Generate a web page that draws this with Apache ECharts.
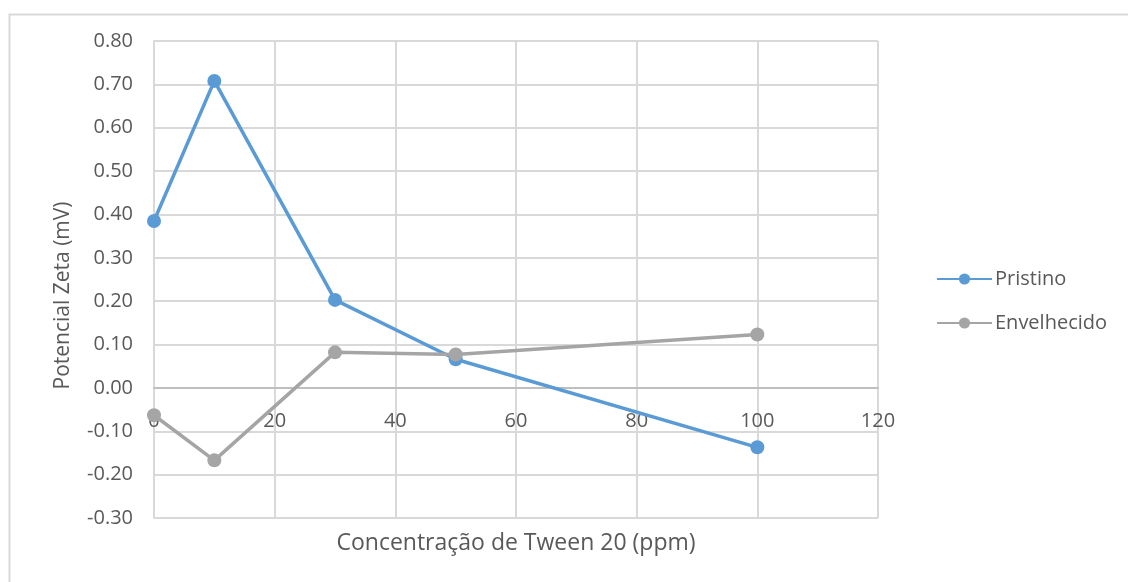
<!DOCTYPE html>
<html>
<head>
<meta charset="utf-8">
<script src="https://cdn.jsdelivr.net/npm/echarts@6/dist/echarts.min.js"></script>
<style>
html,body{margin:0;padding:0;background:#fff;}
#c{width:1128px;height:582px;}
</style>
</head>
<body>
<div id="c"></div>
<script>
const concentrations = [0, 10, 30, 50, 100];
const pristino = [0.385, 0.708, 0.203, 0.066, -0.137];
const envelhecido = [-0.063, -0.167, 0.082, 0.077, 0.123];
const seriesNames = ['Pristino', 'Envelhecido'];
const xTitle = 'Concentração de Tween 20 (ppm)';
const yTitle = 'Potencial Zeta (mV)';

const font = 'Open Sans';
const fs = 20;
const txt = '#595959';
const chart = echarts.init(document.getElementById('c'));
const pairs = vals => concentrations.map((x, i) => [x, vals[i]]);
chart.setOption({
  animation: false,
  graphic: [{
    type: 'rect', left: 7, top: 12,
    shape: { width: 1140, height: 600 },
    style: { fill: 'none', stroke: '#d9d9d9', lineWidth: 2 }
  }],
  grid: { left: 154, top: 41, right: 250, bottom: 64, containLabel: false, outerBoundsMode: 'none' },
  legend: {
    orient: 'vertical', left: 931, top: 264, itemWidth: 55, itemHeight: 14, itemGap: 24,
    textStyle: { fontFamily: font, fontSize: fs, color: txt, padding: [0, 0, 0, -2] },
    data: seriesNames
  },
  xAxis: {
    type: 'value', min: 0, max: 120, interval: 20,
    name: xTitle, nameLocation: 'middle', nameGap: 144,
    nameTextStyle: { fontFamily: font, fontSize: 23, color: txt },
    axisLine: { onZero: false, lineStyle: { color: '#bfbfbf', width: 2 } },
    axisTick: { show: false },
    axisLabel: { margin: 23, fontFamily: font, fontSize: fs, color: txt },
    splitLine: { show: true, lineStyle: { color: '#d9d9d9', width: 2 } }
  },
  yAxis: {
    type: 'value', min: -0.3, max: 0.8, interval: 0.1,
    name: yTitle, nameLocation: 'middle', nameGap: 80,
    nameTextStyle: { fontFamily: font, fontSize: 21, color: txt, padding: [0, 32, 0, 0] },
    axisLine: { show: true, lineStyle: { color: '#d9d9d9', width: 2 } },
    axisTick: { show: false },
    axisLabel: { margin: 21, fontFamily: font, fontSize: fs, color: txt,
      formatter: v => v.toFixed(2) },
    splitLine: { show: true, lineStyle: { color: '#d9d9d9', width: 2 } }
  },
  series: [
    { name: seriesNames[0], type: 'line', data: pairs(pristino), symbol: 'circle', symbolSize: 14,
      itemStyle: { color: '#5b9bd5' }, lineStyle: { color: '#5b9bd5', width: 3.5 } },
    { name: seriesNames[1], type: 'line', data: pairs(envelhecido), symbol: 'circle', symbolSize: 14,
      itemStyle: { color: '#a5a5a5' }, lineStyle: { color: '#a5a5a5', width: 3.5 } }
  ]
});
// place the x axis on the zero value of the y axis (as the original does)
const zeroY = chart.convertToPixel({ yAxisIndex: 0 }, 0);
const bottomY = chart.convertToPixel({ yAxisIndex: 0 }, -0.3);
chart.setOption({ xAxis: { offset: zeroY - bottomY } });
</script>
</body>
</html>
